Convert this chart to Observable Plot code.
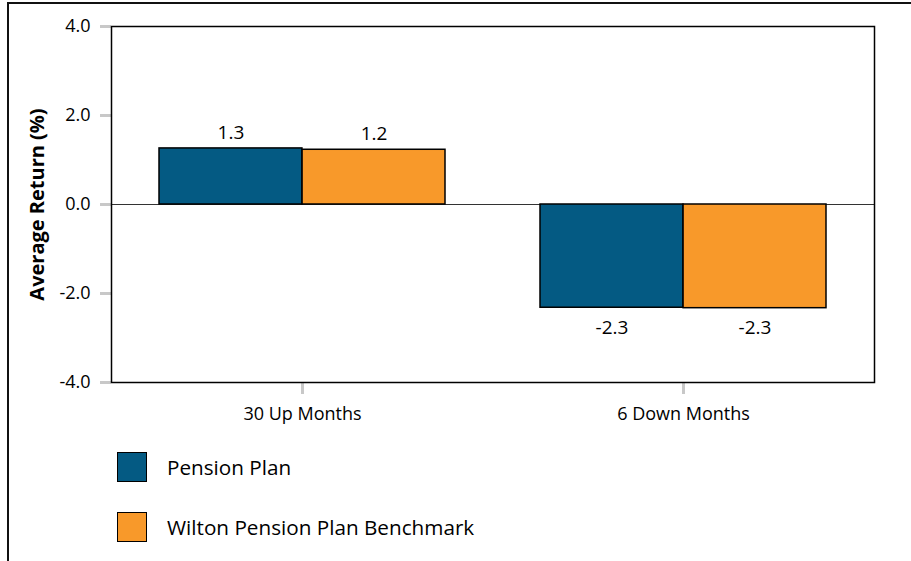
<!DOCTYPE html>
<html>
<head>
<meta charset="utf-8">
<script src="https://cdn.jsdelivr.net/npm/d3@7"></script>
<script src="https://cdn.jsdelivr.net/npm/@observablehq/plot@0.6"></script>
<style>
  html, body { margin: 0; padding: 0; background: #fff; overflow: hidden; }
  #box {
    position: absolute; left: 7px; top: 2px; width: 940px; height: 620px;
    border: 2px solid #111; box-sizing: content-box;
    font-family: "Open Sans", sans-serif; color: #000;
  }
  #chart svg { display: block; }
  g[aria-label="y-axis label"] text, g[aria-label="y-axis label"] { font-weight: 700; font-size: 20px; }
  #legend { margin-left: 108px; margin-top: 12px; }
  .item { display: flex; align-items: center; height: 31px; margin-bottom: 29px; font-size: 20.7px; }
  .sw { width: 28px; height: 28px; border: 1.5px solid #000; margin-right: 20px; }
</style>
</head>
<body>
<div id="box">
  <div id="chart"></div>
  <div id="legend"></div>
</div>
<script>
const groups = ["30 Up Months", "6 Down Months"];
const series = ["Pension Plan", "Wilton Pension Plan Benchmark"];
const pensionValues = [1.26, -2.32];
const benchmarkValues = [1.23, -2.33];
const yTicks = [-4, -2, 0, 2, 4];
const colors = ["#045A83", "#F8992A"];

const W = 902, H = 435, mL = 102, mR = 37, mT = 22, mB = 57;
const pIn = 0.25, pOut = 0.125;
const step = (W - mL - mR) / (groups.length - pIn + 2 * pOut);
const half = step * (1 - pIn) / 2;

const rows = [];
groups.forEach((g, i) => {
  rows.push({group: g, series: series[0], value: pensionValues[i], side: -1});
  rows.push({group: g, series: series[1], value: benchmarkValues[i], side: 1});
});
const fmt = d => d.toFixed(1);

const labelMarks = [];
for (const side of [-1, 1]) {
  for (const pos of [true, false]) {
    labelMarks.push(Plot.text(rows.filter(d => d.side === side && (d.value >= 0) === pos), {
      x: "group", y: "value", text: d => fmt(d.value),
      dx: side * half / 2, dy: pos ? -16 : 20, fill: "#000", fontSize: 19
    }));
  }
}

const plot = Plot.plot({
  width: W, height: H,
  marginLeft: mL, marginRight: mR, marginTop: mT, marginBottom: mB,
  style: {fontFamily: "'Open Sans', sans-serif", fontSize: "18px", color: "#000", background: "transparent", overflow: "visible"},
  x: {domain: groups, paddingInner: pIn, paddingOuter: pOut},
  y: {domain: [-4, 4]},
  color: {domain: series, range: colors},
  marks: [
    Plot.axisY({ticks: yTicks, tickFormat: fmt, tickSize: 11, tickPadding: 10, stroke: "#c8c8c8", strokeWidth: 3,
      label: "Average Return (%)", labelArrow: "none", labelAnchor: "center", labelOffset: 82}),
    Plot.axisX({tickSize: 12, tickPadding: 13, stroke: "#c8c8c8", strokeWidth: 3, label: null}),
    Plot.ruleY([0], {stroke: "#333", strokeWidth: 1.2}),
    Plot.barY(rows.filter(d => d.side < 0), {x: "group", y: "value", fill: "series", stroke: "#000", strokeWidth: 1.5, insetRight: half}),
    Plot.barY(rows.filter(d => d.side > 0), {x: "group", y: "value", fill: "series", stroke: "#000", strokeWidth: 1.5, insetLeft: half}),
    ...labelMarks,
    Plot.frame({stroke: "#000", strokeWidth: 1.5})
  ]
});
document.getElementById("chart").appendChild(plot);

const leg = document.getElementById("legend");
series.forEach((s, i) => {
  const it = document.createElement("div");
  it.className = "item";
  const sw = document.createElement("div");
  sw.className = "sw";
  sw.style.background = colors[i];
  const t = document.createElement("span");
  t.textContent = s;
  it.appendChild(sw); it.appendChild(t);
  leg.appendChild(it);
});
</script>
</body>
</html>
